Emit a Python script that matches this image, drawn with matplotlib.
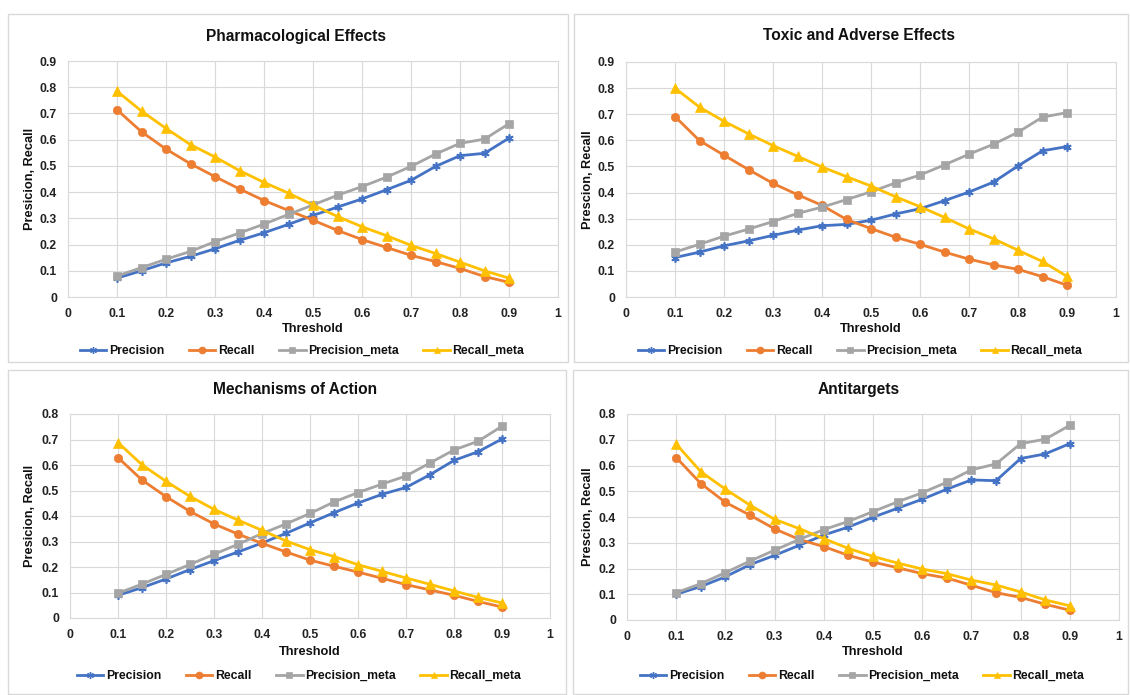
import matplotlib
matplotlib.use("Agg")
import matplotlib.pyplot as plt
from matplotlib.patches import Rectangle
from matplotlib.lines import Line2D

plt.rcParams['font.family'] = ['Liberation Sans', 'DejaVu Sans']

thresholds = [0.1, 0.15, 0.2, 0.25, 0.3, 0.35, 0.4, 0.45, 0.5, 0.55,
              0.6, 0.65, 0.7, 0.75, 0.8, 0.85, 0.9]

series_names = ["Precision", "Recall", "Precision_meta", "Recall_meta"]

# Pharmacological Effects
pharm_precision = [0.072, 0.10, 0.13, 0.155, 0.184, 0.216, 0.245, 0.277, 0.311, 0.343,
                   0.374, 0.409, 0.445, 0.498, 0.539, 0.548, 0.606]
pharm_recall = [0.714, 0.63, 0.564, 0.508, 0.459, 0.412, 0.368, 0.33, 0.293, 0.254,
                0.219, 0.189, 0.159, 0.135, 0.109, 0.078, 0.056]
pharm_precision_meta = [0.08, 0.112, 0.144, 0.174, 0.211, 0.244, 0.278, 0.315, 0.351, 0.388,
                        0.421, 0.457, 0.498, 0.545, 0.586, 0.602, 0.661]
pharm_recall_meta = [0.785, 0.709, 0.643, 0.581, 0.534, 0.482, 0.437, 0.396, 0.351, 0.307,
                     0.268, 0.234, 0.197, 0.166, 0.133, 0.10, 0.072]

# Toxic and Adverse Effects
tox_precision = [0.151, 0.172, 0.196, 0.215, 0.236, 0.256, 0.273, 0.278, 0.294, 0.318,
                 0.338, 0.369, 0.402, 0.44, 0.502, 0.56, 0.576]
tox_recall = [0.691, 0.599, 0.543, 0.488, 0.435, 0.392, 0.351, 0.297, 0.262, 0.229,
              0.202, 0.172, 0.145, 0.123, 0.106, 0.078, 0.045]
tox_precision_meta = [0.172, 0.202, 0.233, 0.26, 0.289, 0.32, 0.344, 0.373, 0.403, 0.437,
                      0.467, 0.506, 0.547, 0.585, 0.631, 0.689, 0.706]
tox_recall_meta = [0.80, 0.727, 0.673, 0.625, 0.58, 0.539, 0.498, 0.461, 0.425, 0.384,
                   0.346, 0.305, 0.261, 0.223, 0.179, 0.136, 0.079]

# Mechanisms of Action
moa_precision = [0.089, 0.119, 0.153, 0.19, 0.225, 0.259, 0.294, 0.332, 0.373, 0.413,
                 0.451, 0.485, 0.512, 0.562, 0.618, 0.652, 0.702]
moa_recall = [0.629, 0.541, 0.476, 0.418, 0.369, 0.329, 0.293, 0.259, 0.227, 0.203,
              0.18, 0.156, 0.131, 0.11, 0.089, 0.065, 0.043]
moa_precision_meta = [0.097, 0.133, 0.171, 0.21, 0.25, 0.289, 0.331, 0.369, 0.41, 0.455,
                      0.492, 0.525, 0.557, 0.608, 0.659, 0.693, 0.752]
moa_recall_meta = [0.688, 0.601, 0.536, 0.477, 0.426, 0.384, 0.344, 0.302, 0.268, 0.241,
                   0.209, 0.183, 0.157, 0.132, 0.106, 0.081, 0.059]

# Antitargets
anti_precision = [0.10, 0.13, 0.168, 0.215, 0.251, 0.29, 0.33, 0.361, 0.399, 0.434,
                  0.469, 0.508, 0.544, 0.541, 0.627, 0.645, 0.685]
anti_recall = [0.631, 0.53, 0.457, 0.407, 0.354, 0.313, 0.285, 0.251, 0.225, 0.203,
               0.18, 0.163, 0.135, 0.106, 0.088, 0.061, 0.038]
anti_precision_meta = [0.106, 0.141, 0.184, 0.229, 0.271, 0.313, 0.351, 0.383, 0.421, 0.459,
                       0.494, 0.535, 0.583, 0.606, 0.685, 0.702, 0.756]
anti_recall_meta = [0.683, 0.576, 0.508, 0.446, 0.391, 0.355, 0.316, 0.278, 0.247, 0.221,
                    0.198, 0.18, 0.155, 0.136, 0.109, 0.078, 0.055]

titles = ["Pharmacological Effects", "Toxic and Adverse Effects",
          "Mechanisms of Action", "Antitargets"]
ylabels = ["Presicion, Recall", "Prescion, Recall", "Presicion, Recall", "Prescion, Recall"]
x_ticks = [0, 0.1, 0.2, 0.3, 0.4, 0.5, 0.6, 0.7, 0.8, 0.9, 1]
x_ticklabels = ["0", "0.1", "0.2", "0.3", "0.4", "0.5", "0.6", "0.7", "0.8", "0.9", "1"]
y_ticks_top = [0, 0.1, 0.2, 0.3, 0.4, 0.5, 0.6, 0.7, 0.8, 0.9]
y_ticklabels_top = ["0", "0.1", "0.2", "0.3", "0.4", "0.5", "0.6", "0.7", "0.8", "0.9"]
y_ticks_bottom = [0, 0.1, 0.2, 0.3, 0.4, 0.5, 0.6, 0.7, 0.8]
y_ticklabels_bottom = ["0", "0.1", "0.2", "0.3", "0.4", "0.5", "0.6", "0.7", "0.8"]

panels_data = [
    [pharm_precision, pharm_recall, pharm_precision_meta, pharm_recall_meta],
    [tox_precision, tox_recall, tox_precision_meta, tox_recall_meta],
    [moa_precision, moa_recall, moa_precision_meta, moa_recall_meta],
    [anti_precision, anti_recall, anti_precision_meta, anti_recall_meta],
]

colors = ["#4472C4", "#ED7D31", "#A5A5A5", "#FFC000"]
markers = [(6, 2, 0), "o", "s", "^"]
msizes = [6, 6, 6, 6.5]

W, H = 1130, 695
fig = plt.figure(figsize=(W / 100, H / 100), dpi=100)
fig.patch.set_facecolor("white")

def fx(x):
    return x / W

def fy(y):
    return 1 - y / H

# panel frames (x0, y0, x1, y1) in pixels
frames = [(8, 14, 568, 362), (574, 14, 1128, 362), (8, 370, 566, 694), (573, 370, 1128, 694)]
# axes rectangles (x0, ytop, x1, ybottom) in pixels
axes_px = [(68, 61, 558, 297), (626, 62, 1116, 297), (70, 414, 550, 618), (627, 414, 1119, 620)]
title_y = [36, 36, 389, 389]
xlabel_y = [329, 329, 652, 652]
legend_y = [351, 351, 676, 676]
ylabel_x = [30, 588, 30, 588]

for i in range(4):
    fx0, fy0, fx1, fy1 = frames[i]
    fig.patches.append(Rectangle((fx(fx0), fy(fy1)), fx(fx1 - fx0), (fy1 - fy0) / H,
                                 transform=fig.transFigure, fill=False,
                                 edgecolor="#D9D9D9", linewidth=1.0, zorder=0))
    x0, yt, x1, yb = axes_px[i]
    ax = fig.add_axes([fx(x0), fy(yb), fx(x1 - x0), (yb - yt) / H])
    for j, vals in enumerate(panels_data[i]):
        ax.plot(thresholds, vals, color=colors[j], marker=markers[j], markersize=msizes[j],
                linewidth=2.0, label=series_names[j], markeredgewidth=1.2 if j == 0 else 0.5,
                markeredgecolor=colors[j], zorder=3)
    ax.set_xlim(0, 1)
    if i < 2:
        ax.set_ylim(0, 0.9)
        ax.set_yticks(y_ticks_top)
        ax.set_yticklabels(y_ticklabels_top)
    else:
        ax.set_ylim(0, 0.8)
        ax.set_yticks(y_ticks_bottom)
        ax.set_yticklabels(y_ticklabels_bottom)
    ax.set_xticks(x_ticks)
    ax.set_xticklabels(x_ticklabels)
    ax.grid(True, color="#D9D9D9", linewidth=0.8, zorder=0)
    for s in ax.spines.values():
        s.set_color("#D9D9D9")
        s.set_linewidth(0.8)
    ax.tick_params(length=0, labelsize=8.8, pad=8)
    for lab in ax.get_xticklabels() + ax.get_yticklabels():
        lab.set_fontweight("bold")
        lab.set_color("#222222")
    cx = (x0 + x1) / 2
    fig.text(fx((fx0 + fx1) / 2 + 8), fy(title_y[i]), titles[i], ha="center", va="center",
             fontsize=11.2, fontweight="bold", color="#111111")
    fig.text(fx(cx), fy(xlabel_y[i]), "Threshold", ha="center", va="center",
             fontsize=9.2, fontweight="bold", color="#111111")
    fig.text(fx(ylabel_x[i]), fy((yt + yb) / 2), ylabels[i], ha="center", va="center",
             rotation=90, fontsize=9.2, fontweight="bold", color="#111111")
    handles = [Line2D([], [], color=colors[j], marker=markers[j], markersize=5,
                      linewidth=2.0, markeredgecolor=colors[j], markeredgewidth=1 if j == 0 else 0.5)
               for j in range(4)]
    leg = fig.legend(handles, series_names, loc="center", ncol=4, frameon=False,
                     bbox_to_anchor=(fx(cx - 11), fy(legend_y[i])), fontsize=8.8,
                     handlelength=2.2, handletextpad=0.2, columnspacing=2.0)
    for t in leg.get_texts():
        t.set_fontweight("bold")
        t.set_color("#111111")

fig.savefig("out.png", dpi=100, facecolor="white")
